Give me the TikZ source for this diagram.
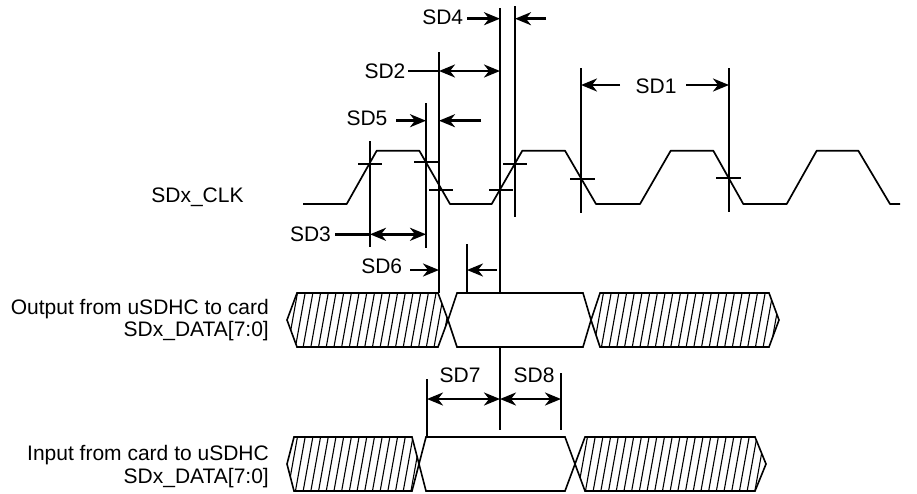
\documentclass[tikz,border=0pt]{standalone}
\usepackage{fontspec}
\setmainfont{Liberation Sans}
\usetikzlibrary{arrows.meta}
\tikzset{
  wave/.style={line width=1.7pt, line join=round},
  vline/.style={line width=1.7pt},
  tick/.style={line width=1.7pt},
  sig/.style={line width=1.6pt, line join=miter},
  hatch/.style={line width=1.1pt},
  ahead/.tip={Stealth[length=16pt,width=13pt,inset=5pt]},
  dimr/.style={line width=2.5pt, -ahead},
  dimb/.style={line width=2.5pt, ahead-ahead},
  plain/.style={line width=2.5pt},
  lbl/.style={font=\fontsize{21}{23}\selectfont, inner sep=0pt},
  lblr/.style={lbl, anchor=east, align=right}
}
\begin{document}
\begin{tikzpicture}[x=1pt,y=-1pt]
\useasboundingbox (0,0) rectangle (917,493);

% ---------- clock waveform ----------
\draw[wave] (303,204) -- (346.7,204) -- (376.7,150.7) -- (419.3,150.7) -- (450,204)
  -- (491.7,204) -- (522.3,150.7) -- (565,150.7) -- (596,204) -- (640,204)
  -- (670.7,150.7) -- (713.3,150.7) -- (743.3,204) -- (786.7,204) -- (816.7,150.7)
  -- (858.3,150.7) -- (890,204) -- (900,204);

% ---------- named coordinates for vertical reference lines ----------
\coordinate (v1t) at (370,141);  \coordinate (v1b) at (370,247);
\coordinate (v2t) at (426,103);  \coordinate (v2b) at (426,248);
\coordinate (v3t) at (439,52);   \coordinate (v3b) at (439,293);
\coordinate (v4t) at (500,8);    \coordinate (v4m) at (500,293);
\coordinate (v4n) at (500,347);  \coordinate (v4b) at (500,430);
\coordinate (v5t) at (515,6);    \coordinate (v5b) at (515,217);
\coordinate (v6t) at (581,68);   \coordinate (v6b) at (581,213);
\coordinate (v7t) at (729,68);   \coordinate (v7b) at (729,212);
\coordinate (v8t) at (467,244);  \coordinate (v8b) at (467,293);
\coordinate (v9t) at (427,379);  \coordinate (v9b) at (427,437);
\coordinate (v10t) at (561,373); \coordinate (v10b) at (561,430);

\draw[vline] (v1t) -- (v1b);
\draw[vline] (v2t) -- (v2b);
\draw[vline] (v3t) -- (v3b);
\draw[vline] (v4t) -- (v4m);
\draw[vline] (v4n) -- (v4b);
\draw[vline] (v5t) -- (v5b);
\draw[vline] (v6t) -- (v6b);
\draw[vline] (v7t) -- (v7b);
\draw[vline] (v8t) -- (v8b);
\draw[vline] (v9t) -- (v9b);
\draw[vline] (v10t) -- (v10b);

% ---------- threshold ticks ----------
\draw[tick] (358,164) -- (382,164);
\draw[tick] (414,161.7) -- (438,161.7);
\draw[tick] (429,190) -- (453,190);
\draw[tick] (489,190) -- (513,190);
\draw[tick] (503,164) -- (527,164);
\draw[tick] (570,179) -- (595,179);
\draw[tick] (716,178) -- (741,178);

% ---------- labels ----------
\node[lbl] (clk) at (197.5,197) {SDx\_CLK};
\node[lblr] (out1) at (269,309) {Output from uSDHC to card};
\node[lblr] (out2) at (269,331) {SDx\_DATA[7:0]};
\node[lblr] (in1) at (269,455) {Input from card to uSDHC};
\node[lblr] (in2) at (269,478) {SDx\_DATA[7:0]};

\node[lbl] (sd4) at (442.7,17) {SD4};
\node[lbl] (sd2) at (385,71) {SD2};
\node[lbl] (sd5) at (367,118) {SD5};
\node[lbl] (sd1) at (656,86) {SD1};
\node[lbl] (sd3) at (310.5,234) {SD3};
\node[lbl] (sd6) at (381.7,266) {SD6};
\node[lbl] (sd7) at (460,375) {SD7};
\node[lbl] (sd8) at (534,375) {SD8};

% ---------- dimension arrows ----------
% SD4
\coordinate (a4a) at (467,18.7); \coordinate (a4b) at (500,18.7);
\coordinate (a4c) at (546,18.7); \coordinate (a4d) at (515,18.7);
\draw[dimr] (a4a) -- (a4b);
\draw[dimr] (a4c) -- (a4d);
% SD2
\coordinate (a2a) at (408,71); \coordinate (a2b) at (439,71); \coordinate (a2c) at (500,71);
\draw[plain] (a2a) -- (a2b);
\draw[dimb] (a2b) -- (a2c);
% SD5
\coordinate (a5a) at (396,120.7); \coordinate (a5b) at (426,120.7);
\coordinate (a5c) at (481,120.7); \coordinate (a5d) at (439,120.7);
\draw[dimr] (a5a) -- (a5b);
\draw[dimr] (a5c) -- (a5d);
% SD1
\coordinate (a1a) at (620,85); \coordinate (a1b) at (581,85);
\coordinate (a1c) at (686,85); \coordinate (a1d) at (729,85);
\draw[dimr] (a1a) -- (a1b);
\draw[dimr] (a1c) -- (a1d);
% SD3
\coordinate (a3a) at (335,234.3); \coordinate (a3b) at (370,234.3); \coordinate (a3c) at (426,234.3);
\draw[plain] (a3a) -- (a3b);
\draw[dimb] (a3b) -- (a3c);
% SD6
\coordinate (a6a) at (410,270); \coordinate (a6b) at (439,270);
\coordinate (a6c) at (497,270); \coordinate (a6d) at (467,270);
\draw[dimr] (a6a) -- (a6b);
\draw[dimr] (a6c) -- (a6d);
% SD7 / SD8
\coordinate (a7a) at (427,399); \coordinate (a7b) at (500,399); \coordinate (a8b) at (561,399);
\draw[dimb] (a7a) -- (a7b);
\draw[dimb] (a7b) -- (a8b);

% ---------- output data row (top 293, bottom 347) ----------
\begin{scope}
\clip (287,320) -- (297,293) -- (438,293) -- (448,320) -- (438,347) -- (297,347) -- cycle;
\foreach \x in {272,279.7,...,460} \draw[hatch] (\x,349) -- ++(10.4,-58);
\end{scope}
\draw[sig] (287,320) -- (297,293) -- (438,293) -- (448,320) -- (438,347) -- (297,347) -- cycle;
\draw[sig] (448,320) -- (457,293) -- (583,293) -- (591,320) -- (583,347) -- (457,347) -- cycle;
\begin{scope}
\clip (591,320) -- (600,293) -- (769,293) -- (779,320) -- (769,347) -- (600,347) -- cycle;
\foreach \x in {578,585.7,...,790} \draw[hatch] (\x,349) -- ++(10.4,-58);
\end{scope}
\draw[sig] (591,320) -- (600,293) -- (769,293) -- (779,320) -- (769,347) -- (600,347) -- cycle;

% ---------- input data row (top 437, bottom 491) ----------
\begin{scope}
\clip (287,464) -- (294,437) -- (412,437) -- (419,464) -- (412,491) -- (294,491) -- cycle;
\foreach \x in {272,279.7,...,430} \draw[hatch] (\x,493) -- ++(10.4,-58);
\end{scope}
\draw[sig] (287,464) -- (294,437) -- (412,437) -- (419,464) -- (412,491) -- (294,491) -- cycle;
\draw[sig] (419,464) -- (426,437) -- (565,437) -- (575,464) -- (565,491) -- (426,491) -- cycle;
\begin{scope}
\clip (575,464) -- (585,437) -- (755,437) -- (766,464) -- (755,491) -- (585,491) -- cycle;
\foreach \x in {562,569.7,...,780} \draw[hatch] (\x,493) -- ++(10.4,-58);
\end{scope}
\draw[sig] (575,464) -- (585,437) -- (755,437) -- (766,464) -- (755,491) -- (585,491) -- cycle;
\end{tikzpicture}
\end{document}
